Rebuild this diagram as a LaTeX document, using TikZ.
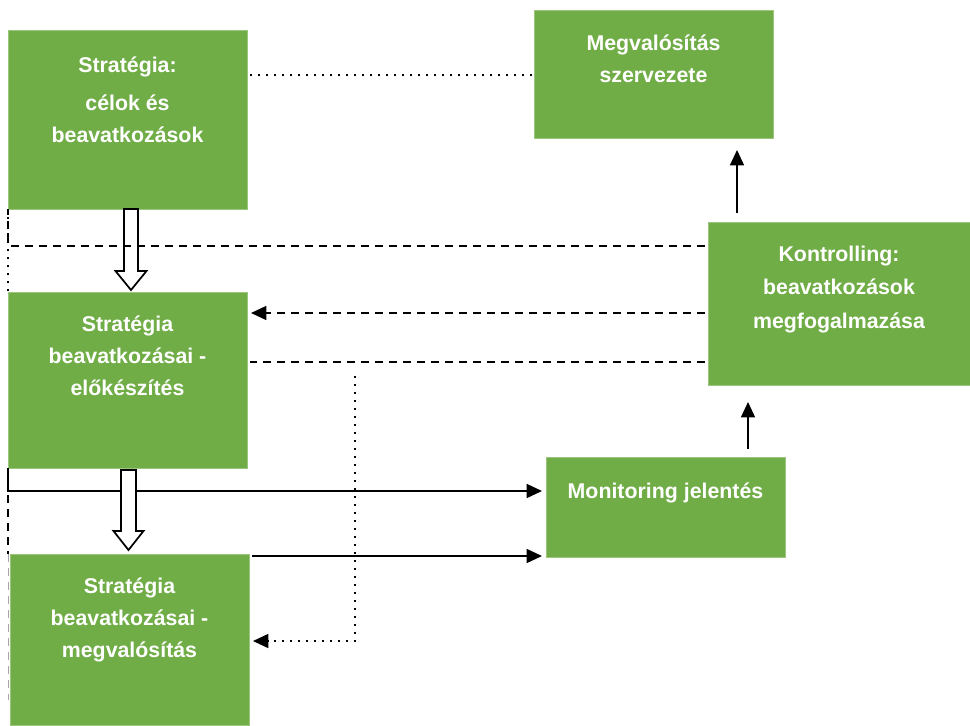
\documentclass[tikz,border=0pt]{standalone}
\usepackage{fontspec}
\setmainfont{Liberation Sans}
\usetikzlibrary{positioning,arrows.meta}
\usetikzlibrary{calc}
\definecolor{boxGreen}{RGB}{112,173,71}

\begin{document}
\begin{tikzpicture}[x=0.75pt,y=-0.75pt]
  \newdimen\px
  \px=0.75pt

  \tikzstyle{stageBox} = [
    % The shape:
    rectangle, minimum width=239*\px, inner sep=0pt, outer sep=0pt,
    % The border:
    draw=boxGreen!70!white, line width=0.4pt,
    % The filling:
    fill=boxGreen
  ];
  \tikzstyle{stageText} = [
    % Just text!
    text=white, align=center,
    % Font:
    font=\bfseries\fontsize{16}{24}\selectfont
  ];
  \tikzstyle{solidFlow} = [
    draw = black,
    line width=1.1pt
  ];
  \tikzstyle{dashedFlow} = [
    draw = black,
    line width=1.1pt,
    dash pattern=on 6pt off 4.5pt
  ];
  \tikzstyle{dottedFlow} = [
    draw = black,
    line width=1.3pt,
    dash pattern=on 1.3pt off 4.7pt
  ];
  \tikzstyle{arrowFlow} = [
    -{Triangle[length=11.5pt,width=10.5pt]}
  ];
  \tikzstyle{blockArrow} = [
    draw = black,
    line width=1.3pt,
    fill = white
  ];

  \useasboundingbox (0,0) rectangle (970,725);

  \node [stageBox, minimum height=179*\px] (strategyGoals) at (127.5,119.5) {};
  \node [stageBox, minimum height=128*\px, right=287*\px of strategyGoals,
         yshift=45.5*\px] (implOrg) {};
  \node [stageBox, minimum height=176*\px, below=83*\px of strategyGoals] (strategyPrep) {};
  \node [stageBox, minimum height=171*\px, below=86*\px of strategyPrep,
         xshift=2*\px] (strategyImpl) {};
  \node [stageBox, minimum width=262*\px, minimum height=163*\px,
         below right=84*\px and 174*\px of implOrg.south west, anchor=north west] (controlling) {};
  \node [stageBox, minimum height=100*\px,
         below left=72*\px and 162*\px of controlling.south west, anchor=north west] (monitoringReport) {};

  \node [stageText, yshift=19.5*\px] (strategyGoalsText) at (strategyGoals)
        {Stratégia:\\[4.5pt] célok és\\ beavatkozások};
  \node [stageText, yshift=15*\px] (implOrgText) at (implOrg)
        {Megvalósítás\\ szervezete};
  \node [stageText, yshift=24.5*\px] (strategyPrepText) at (strategyPrep)
        {Stratégia\\ beavatkozásai -\\ előkészítés};
  \node [stageText, yshift=20*\px] (strategyImplText) at (strategyImpl)
        {Stratégia\\ beavatkozásai -\\ megvalósítás};
  \node [stageText, yshift=14*\px] (controllingText) at (controlling)
        {Kontrolling:\\[1pt] beavatkozások\\[1pt] megfogalmazása};
  \node [stageText, yshift=14*\px] (monitoringReportText) at (monitoringReport)
        {Monitoring jelentés};

  % strategy -> preparation
  \path [blockArrow] ($(strategyGoals.south)+(-3.5,0)$) -- ++(0,62) -- ++(-8.5,0)
        -- ++(15.5,19) -- ++(15.5,-19) -- ++(-8.5,0) -- ++(0,-62) -- cycle;

  \path [dottedFlow] ($(strategyGoals.east |- implOrg.west)+(3,1)$) -- ($(implOrg.west)+(-2,1)$);

  % feedback of the controlling
  \path [dashedFlow] ($(controlling.north west)+(-3,24)$) -| (strategyGoals.south west);
  \path [dottedFlow] (strategyGoals.south west) -- (strategyPrep.north west);
  \path [dashedFlow, arrowFlow] ($(controlling.north west)+(-3,91)$)
                             -- ($(strategyPrep.north east)+(4,21)$);
  \path [dashedFlow] ($(controlling.north west)+(-3,140)$)
                  -- ($(strategyPrep.north east)+(3,70)$);
  \coordinate (dotStart) at ($(strategyPrep.north east)+(108,84)$);
  \path [dottedFlow, arrowFlow] (dotStart) |- ($(strategyImpl.north east)+(4,87)$);

  % reporting
  \path [solidFlow, arrowFlow] (strategyPrep.south west)
                            |- ($(monitoringReport.north west)+(-4,34)$);
  \path [dashedFlow] ($(strategyPrep.south west)+(0,27)$) -- ($(strategyImpl.north west)+(-2,0)$);
  \path [dashedFlow, draw=black!35, line width=0.6pt] ($(strategyImpl.north west)+(-2,0)$)
                                                   -- ($(strategyImpl.north west)+(-2,146)$);
  \path [solidFlow, arrowFlow] ($(strategyImpl.north east)+(3,2)$)
                            -- ($(monitoringReport.north west)+(-4,99)$);
  \path [solidFlow, arrowFlow] ($(monitoringReport.north west)+(202,-8)$)
                            -- ($(controlling.south west)+(40,17)$);
  \path [solidFlow, arrowFlow] ($(controlling.north west)+(29,-9)$)
                            -- ($(implOrg.south west)+(203,12)$);

  % preparation -> implementation
  \path [blockArrow] ($(strategyPrep.south)+(-6.5,2)$) -- ++(0,61) -- ++(-7.5,0)
        -- ++(15,19) -- ++(15,-19) -- ++(-7.5,0) -- ++(0,-61) -- cycle;
\end{tikzpicture}
\end{document}
